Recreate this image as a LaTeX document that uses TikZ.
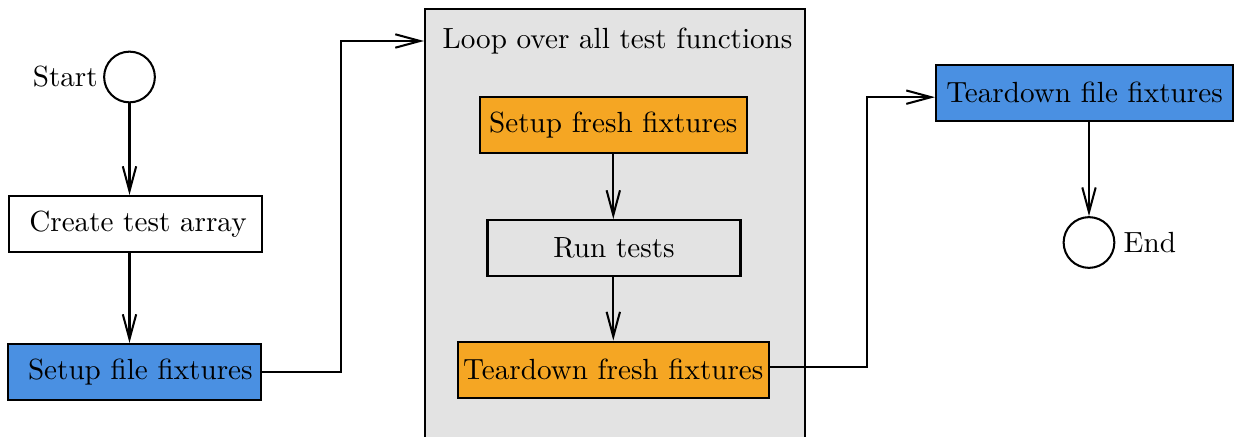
\documentclass[tikz,border=0pt]{standalone}
\usetikzlibrary{arrows.meta}
\definecolor{fileblue}{HTML}{4A90E2}
\definecolor{freshorange}{HTML}{F5A623}
\definecolor{loopgray}{HTML}{E3E3E3}
\begin{document}
\begin{tikzpicture}[x=0.343pt,y=-0.343pt,line width=0.7pt,
  >={Straight Barb[length=8.5pt,width=4.6pt]},
  box/.style={draw,inner sep=0pt},
  size/.style 2 args={minimum width=#1*0.343pt,minimum height=#2*0.343pt},
  filebox/.style={box,fill=fileblue},
  freshbox/.style={box,fill=freshorange},
  endpoint/.style={circle,draw,inner sep=0pt,minimum size=17.4pt},
  conn/.style={->}]
\useasboundingbox (0,0) rectangle (1237,437);
\clip (0,0) rectangle (1237,437);
% loop frame
\node[box,fill=loopgray,size={380}{460}] (loop) at (615,239) {};
\node (looptitle) at (617.5,41) {Loop over all test functions};
% nodes
\node[endpoint] (start) at (129.5,77) {};
\node[anchor=east,inner sep=1.5pt] (startlbl) at (start.west) {Start};
\node[box,size={253}{56}] (cta) at (135.5,224) {\hspace{1.7pt}Create test array};
\node[filebox,size={253}{56}] (sff) at (134.5,372) {\hspace{4pt}Setup file fixtures};
\node[freshbox,size={267.5}{56.5}] (sfr) at (613.3,124.8) {Setup fresh fixtures\hspace{1.4pt}};
\node[box,size={253}{56}] (run) at (614,248) {Run tests};
\node[freshbox,size={311.5}{56.5}] (tfr) at (613.3,369.8) {Teardown fresh fixtures};
\node[filebox,size={297}{56.5}] (tfi) at (1084.5,92.8) {Teardown file fixtures\hspace{2.7pt}};
\node[endpoint] (end) at (1089,242.5) {};
\node[anchor=west,inner sep=2.5pt] (endlbl) at (end.east) {End};
% connectors
\draw[conn] (start.south) -- (start.south |- cta.north);
\draw[conn] (cta.south -| start) -- (sff.north -| start);
\draw[conn] (sff.east) -- ++(79,0) |- (looptitle -| loop.west);
\draw[conn] (sfr.south) -- (sfr.south |- run.north);
\draw[conn] (run.south -| sfr) -- (tfr.north -| sfr);
\draw[conn] ([yshift=1pt]tfr.east) -- ++(97,0) |- ([yshift=-1.5pt]tfi.west);
\draw[conn] (tfi.south -| end) -- (end.north);
\end{tikzpicture}
\end{document}
